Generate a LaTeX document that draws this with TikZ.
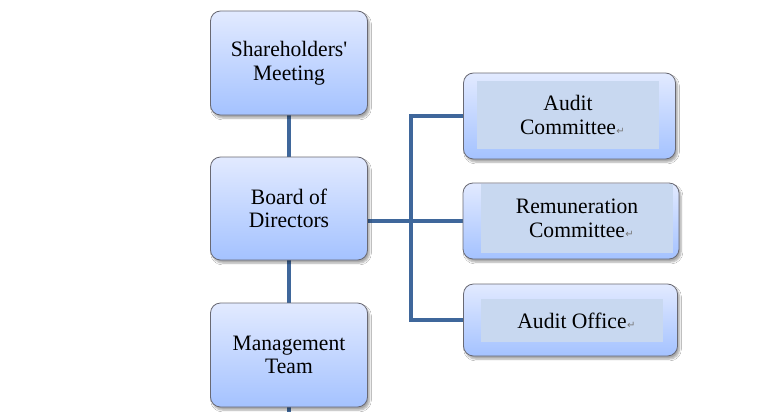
\documentclass[tikz,border=0pt]{standalone}
\usepackage{fontspec}
\setmainfont{Liberation Serif}[FakeStretch=0.98,Ligatures=TeXOff]
\newfontfamily\markfont{DejaVu Sans}
\usetikzlibrary{shadows.blur,backgrounds}
\definecolor{linec}{RGB}{63,103,155}
\definecolor{boxtop}{RGB}{226,234,255}
\definecolor{boxbot}{RGB}{164,194,255}
\definecolor{boxedge}{RGB}{105,105,115}
\definecolor{innerc}{RGB}{200,216,240}
\definecolor{markc}{RGB}{120,120,120}
\newcommand{\retmark}{\rlap{\hspace{0.5pt}\textcolor{markc}{\markfont\fontsize{10}{10}\selectfont ↵}}}
\begin{document}
\begin{tikzpicture}[x=1pt,y=-1pt,
  orgbox/.style={draw=boxedge, line width=0.8pt, rounded corners=10pt,
    top color=boxtop, bottom color=boxbot,
    blur shadow={shadow xshift=2pt, shadow yshift=-3pt, shadow opacity=35, shadow blur steps=6},
    inner sep=0pt, align=center, font=\fontsize{22}{23.5}\selectfont},
  innerbox/.style={fill=innerc, inner sep=0pt, align=center, font=\fontsize{22}{24}\selectfont},
  conn/.style={draw=linec, line width=3.5pt, line join=miter}]
\useasboundingbox (0,0) rectangle (773,412);
% main column
\node[orgbox, minimum width=157pt, minimum height=104pt] (SM) at (289,63) {Shareholders'\\Meeting};
\node[orgbox, minimum width=157pt, minimum height=103pt] (BD) at (289,208.5) {Board of\\Directors};
\node[orgbox, minimum width=157pt, minimum height=104pt] (MT) at (289,355) {Management\\Team};
% committees
\node[orgbox, minimum width=212pt, minimum height=86pt] (AC) at (569.5,116) {};
\node[innerbox, minimum width=182pt, minimum height=68pt] (ACi) at (568,115) {Audit\\Committee\retmark};
\node[orgbox, minimum width=216pt, minimum height=76pt] (RC) at (571,221) {};
\node[innerbox, minimum width=192pt, minimum height=69pt] (RCi) at (577,218.5) {Remuneration\\Committee\retmark};
\node[orgbox, minimum width=214pt, minimum height=72pt] (AO) at (570.5,320) {};
\node[innerbox, minimum width=182pt, minimum height=43pt] (AOi) at (572,320.5) {Audit Office\retmark};
\coordinate (mtend) at (289,412);
\coordinate (bus) at (411,0);
\begin{scope}[on background layer]
  \fill[white] (0,0) rectangle (773,412);
  \draw[conn] (SM.south) -- (BD.north);
  \draw[conn] (BD.south) -- (MT.north);
  \draw[conn] (MT.south) -- (mtend);
  \draw[conn] (BD.east |- RC.west) -- (RC.west);
  \draw[conn] (AC.west) -- (AC.west -| bus) -- (AO.west -| bus) -- (AO.west);
\end{scope}
\end{tikzpicture}
\end{document}
